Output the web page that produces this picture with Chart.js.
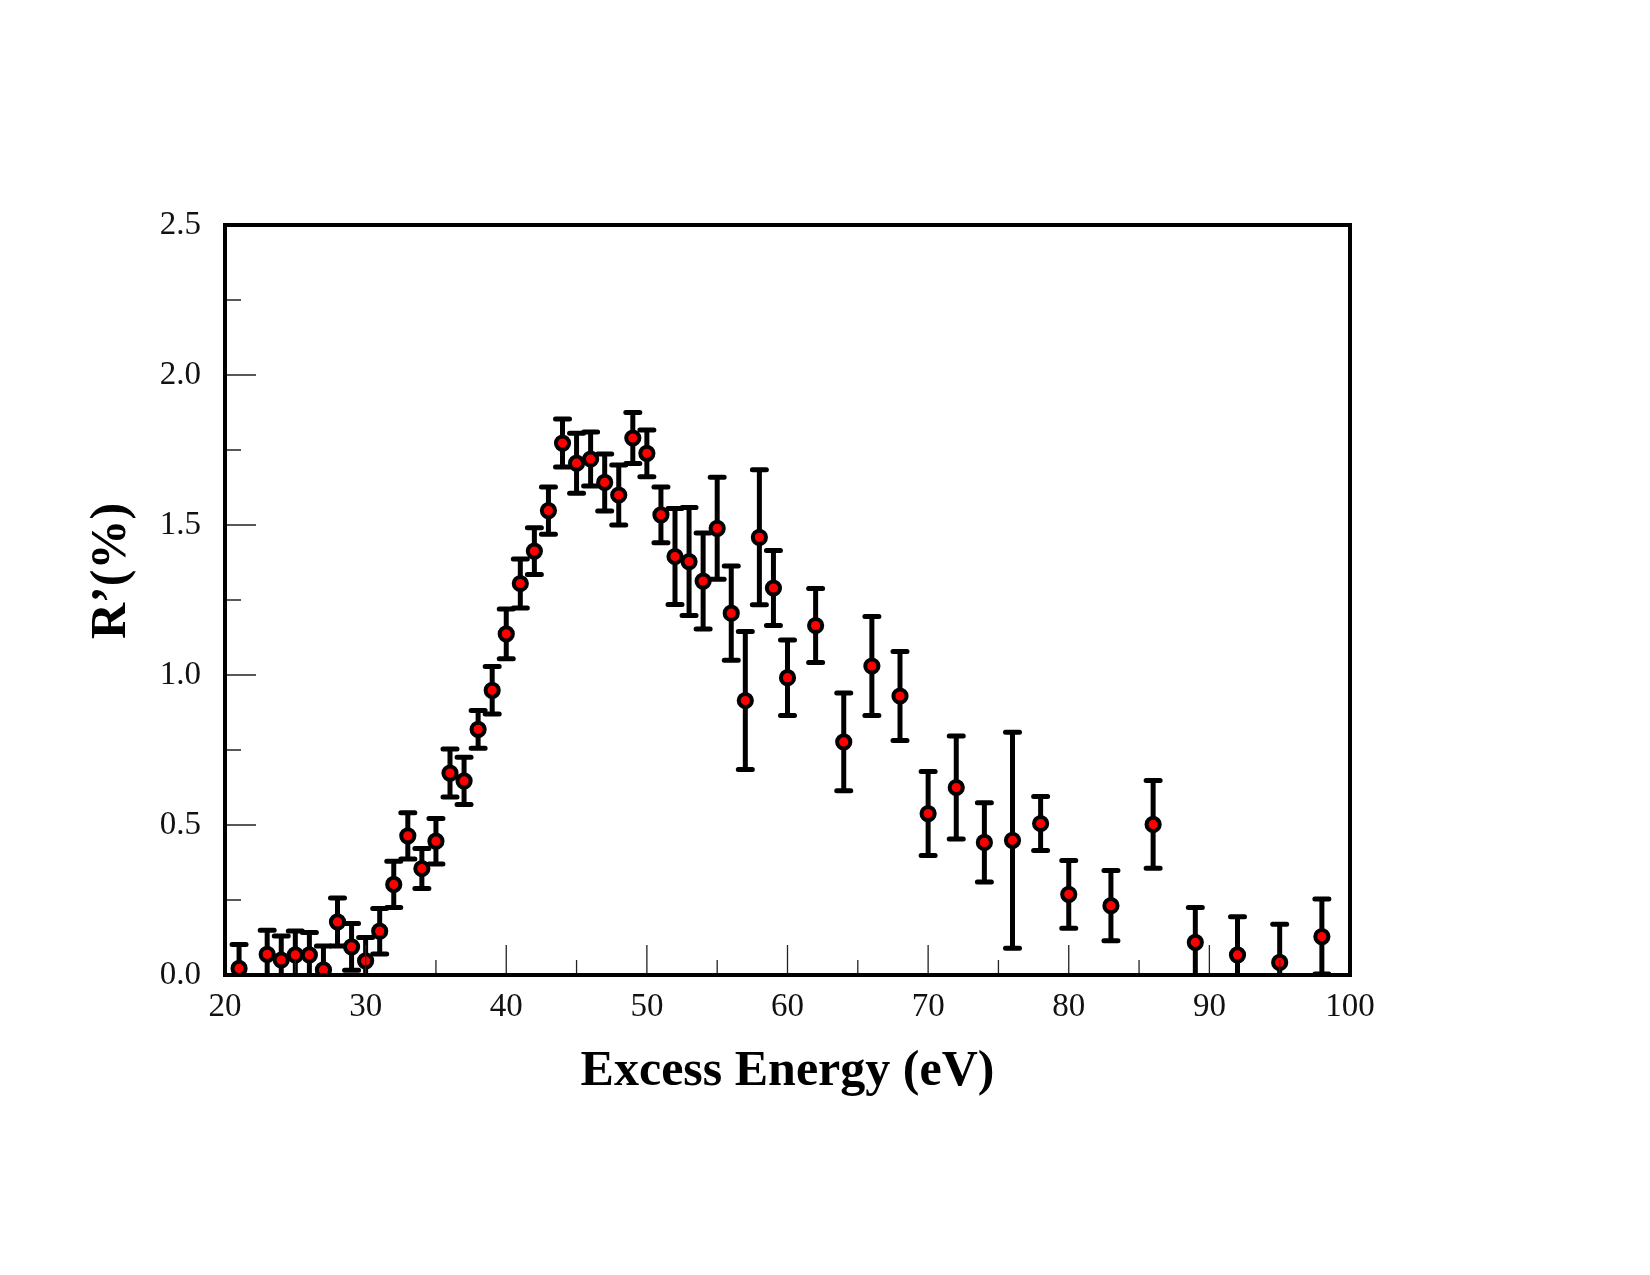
<!DOCTYPE html>
<html><head><meta charset="utf-8">
<script src="https://cdn.jsdelivr.net/npm/chart.js@4.4.1/dist/chart.umd.min.js"></script>
<style>html,body{margin:0;padding:0;background:#fff;}#wrap{width:1650px;height:1275px;}</style>
</head><body><div id="wrap"><canvas id="c" width="1650" height="1275"></canvas></div>
<script>
const energies = [21,23,24,25,26,27,28,29,30,31,32,33,34,35,36,37,38,39,40,41,42,43,44,45,46,47,48,49,50,51,52,53,54,55,56,57,58,59,60,62,64,66,68,70,72,74,76,78,80,83,86,89,92,95,98];
const ratios = [0.022,0.069,0.05,0.067,0.067,0.017,0.177,0.094,0.047,0.146,0.302,0.464,0.355,0.446,0.673,0.647,0.819,0.949,1.137,1.305,1.413,1.548,1.773,1.706,1.72,1.642,1.6,1.79,1.739,1.534,1.395,1.378,1.313,1.489,1.206,0.915,1.459,1.29,0.991,1.165,0.777,1.03,0.93,0.538,0.625,0.442,0.449,0.505,0.269,0.231,0.502,0.109,0.067,0.042,0.128];
const errors = [0.08,0.08,0.08,0.08,0.075,0.08,0.08,0.078,0.078,0.076,0.077,0.077,0.067,0.076,0.08,0.079,0.063,0.079,0.083,0.082,0.078,0.079,0.08,0.1,0.09,0.095,0.1,0.085,0.078,0.093,0.16,0.18,0.16,0.17,0.157,0.23,0.225,0.125,0.126,0.123,0.163,0.165,0.148,0.14,0.172,0.132,0.36,0.09,0.113,0.117,0.146,0.116,0.127,0.127,0.125];
const xTickValues = [20,30,40,50,60,70,80,90,100];
const xMinorTickValues = [25,35,45,55,65,75,85,95];
const yTickValues = [0,0.5,1.0,1.5,2.0,2.5];
const yMinorTickValues = [0.25,0.75,1.25,1.75,2.25];
const xTitle = 'Excess Energy (eV)';
const yTitle = 'R’(%)';

const points = energies.map((e, i) => ({x: e, y: ratios[i], err: errors[i]}));
const FONT = '"Liberation Serif", "Times New Roman", serif';

const errorBarPlugin = {
  id: 'errorBars',
  beforeDatasetsDraw(chart) {
    const {ctx, chartArea: a, scales: {x, y}} = chart;
    ctx.save();
    ctx.beginPath();
    ctx.rect(a.left, a.top, a.right - a.left, a.bottom - a.top);
    ctx.clip();
    ctx.strokeStyle = '#000';
    ctx.lineWidth = 5;
    const cap = 7;
    points.forEach(p => {
      const px = x.getPixelForValue(p.x);
      const top = y.getPixelForValue(p.y + p.err);
      const bot = y.getPixelForValue(p.y - p.err);
      ctx.lineCap = 'butt';
      ctx.beginPath();
      ctx.moveTo(px, top); ctx.lineTo(px, bot);
      ctx.stroke();
      ctx.lineCap = 'round';
      ctx.beginPath();
      ctx.moveTo(px - cap, top); ctx.lineTo(px + cap, top);
      ctx.moveTo(px - cap, bot); ctx.lineTo(px + cap, bot);
      ctx.stroke();
    });
    ctx.restore();
  }
};

const framePlugin = {
  id: 'frame',
  afterDraw(chart) {
    const {ctx, chartArea: a, scales: {x, y}} = chart;
    ctx.save();
    ctx.strokeStyle = '#222';
    ctx.lineWidth = 1.3;
    ctx.beginPath();
    xTickValues.forEach(v => { const px = x.getPixelForValue(v); ctx.moveTo(px, a.bottom); ctx.lineTo(px, a.bottom - 30); });
    xMinorTickValues.forEach(v => { const px = x.getPixelForValue(v); ctx.moveTo(px, a.bottom); ctx.lineTo(px, a.bottom - 15); });
    yTickValues.forEach(v => { const py = y.getPixelForValue(v); ctx.moveTo(a.left, py); ctx.lineTo(a.left + 31, py); });
    yMinorTickValues.forEach(v => { const py = y.getPixelForValue(v); ctx.moveTo(a.left, py); ctx.lineTo(a.left + 16, py); });
    ctx.stroke();
    ctx.strokeStyle = '#000';
    ctx.lineWidth = 4;
    ctx.strokeRect(a.left, a.top, a.right - a.left, a.bottom - a.top);
    ctx.restore();
  }
};

new Chart(document.getElementById('c'), {
  type: 'scatter',
  data: {
    datasets: [{
      data: points,
      showLine: false,
      pointRadius: 6.6,
      pointHoverRadius: 6.6,
      pointBorderWidth: 4,
      pointBackgroundColor: '#ff0000',
      pointBorderColor: '#000000'
    }]
  },
  options: {
    responsive: false,
    animation: false,
    devicePixelRatio: 1,
    layout: {padding: {top: 225, left: 0, right: 300, bottom: 0}},
    plugins: {legend: {display: false}, tooltip: {enabled: false}},
    scales: {
      x: {
        type: 'linear', min: 20, max: 100,
        afterBuildTicks(s) { s.ticks = xTickValues.map(v => ({value: v})); },
        afterFit(s) { s.height = 300; },
        grid: {display: false, drawTicks: false},
        border: {display: false},
        ticks: {padding: 13, color: '#111', font: {family: FONT, size: 33}, callback: v => String(v)},
        title: {display: true, text: xTitle, color: '#000', font: {family: FONT, size: 50, weight: 'bold'}, padding: {top: 0, bottom: 173}}
      },
      y: {
        type: 'linear', min: 0, max: 2.5,
        afterBuildTicks(s) { s.ticks = yTickValues.map(v => ({value: v})); },
        afterFit(s) { s.width = 225; },
        afterUpdate(s) {
          if (!s._titleShifted) {
            const orig = s.drawTitle;
            s.drawTitle = function () {
              const c = this.ctx;
              c.save();
              c.translate(0, -29);
              orig.call(this);
              c.restore();
            };
            s._titleShifted = true;
          }
        },
        grid: {display: false, drawTicks: false},
        border: {display: false},
        ticks: {padding: 24, color: '#111', font: {family: FONT, size: 33}, callback: v => Number(v).toFixed(1)},
        title: {display: true, text: yTitle, color: '#000', font: {family: FONT, size: 50, weight: 'bold'}, padding: {top: 82, bottom: 0}}
      }
    }
  },
  plugins: [errorBarPlugin, framePlugin]
});
</script></body></html>
